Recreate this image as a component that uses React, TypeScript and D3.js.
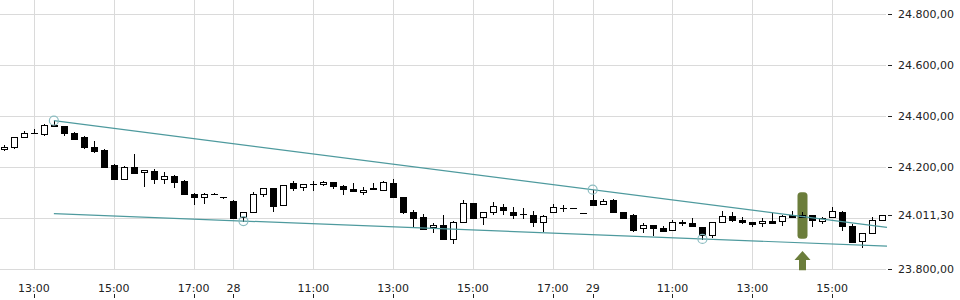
import React, { useEffect } from "react";
import * as d3 from "d3";

// 15-minute candles, index 0 = 12:15 on the 27th
const opens = [24270,24278,24317,24332,24330,24367,24361,24333,24317,24278,24267,24207,24155,24200,24180,24184,24153,24166,24146,24095,24082,24095,24083,24068,24004,24023,24094,24117,24051,24138,24123,24133,24133,24141,24126,24114,24104,24119,24112,24139,24085,24025,24004,23965,23972,23919,23984,24059,24004,24023,24043,24023,24017,24014,23984,24023,24041,24040,24021,24072,24055,24073,24025,24014,23962,23972,23961,23953,23983,23983,23965,23933,23984,24010,23992,23987,23980,23988,23988,24013,24004,24012,23990,24004,24026,23969,23910,23942,23993];
const highs = [24287,24318,24343,24349,24369,24382,24363,24338,24322,24302,24270,24211,24205,24252,24189,24192,24181,24168,24148,24097,24100,24097,24083,24070,24025,24102,24119,24119,24130,24146,24134,24147,24147,24142,24132,24137,24124,24137,24145,24153,24085,24031,24016,23983,24013,23990,24072,24060,24025,24063,24055,24043,24040,24029,24011,24055,24053,24041,24022,24112,24075,24075,24025,24015,23981,23974,23970,23993,23993,24000,23966,23984,24027,24023,24004,23987,24002,24019,24011,24029,24026,24013,24006,24043,24027,23979,23942,24006,24012];
const lows = [24269,24277,24317,24332,24327,24360,24325,24312,24274,24258,24199,24155,24155,24176,24128,24137,24137,24124,24093,24055,24059,24094,24081,24002,23989,24023,24086,24030,24050,24112,24112,24111,24132,24119,24096,24105,24096,24113,24112,24085,24022,23967,23958,23945,23917,23902,23984,24002,23979,24016,24016,24002,24000,23971,23951,24023,24030,24039,24020,24052,24054,24026,23999,23951,23945,23933,23950,23952,23974,23970,23919,23928,23984,23991,23983,23970,23970,23983,23975,24003,24003,23969,23980,24003,23953,23908,23886,23942,23992];
const closes = [24278,24317,24333,24334,24365,24360,24333,24312,24278,24265,24200,24155,24202,24176,24188,24153,24166,24143,24094,24083,24096,24096,24082,24002,24023,24094,24117,24049,24129,24120,24133,24134,24141,24126,24114,24106,24112,24114,24141,24085,24023,24002,23958,23972,23918,23985,24059,24002,24023,24049,24031,24012,24018,23985,24010,24043,24040,24041,24020,24053,24068,24026,24000,23954,23974,23962,23951,23987,23984,23970,23935,23984,24008,23992,23984,23976,23988,23983,24010,24004,24013,23992,24000,24028,23969,23908,23941,23993,24011.3];

// x-axis labels: candle index -> text
const xTickIndex = [3, 11, 19, 23, 31, 39, 47, 55, 59, 67, 75, 83];
const xTickLabels = ["13:00", "15:00", "17:00", "28", "11:00", "13:00", "15:00", "17:00", "29", "11:00", "13:00", "15:00"];

// y-axis
const yGridValues = [24800, 24600, 24400, 24200, 24000, 23800];
const yLabelValues = [24800, 24600, 24400, 24200, 23800];
const lastPrice = 24011.3;

// trendline anchors [index, value]
const upperAnchors = [[5, 24382], [59, 24112]];
const lowerAnchors = [[24, 23989], [70, 23919]];
const lowerStartIndex = 5;
const pivotPoints = [[5, 24382], [24, 23989], [59, 24112], [70, 23919]];

// signal marker
const signalIndex = 80;
const signalRange = [24102, 23920];
const arrowRange = [23872, 23796];

const W = 960;
const H = 300;
const plotRight = 886;

const fmt = (v: number) => {
  const s = v.toFixed(2);
  const [ip, dp] = s.split(".");
  return ip.replace(/\B(?=(\d{3})+(?!\d))/g, ".") + "," + dp;
};

export default function App() {
  useEffect(() => {
    document.body.style.margin = "0";
  }, []);

  const x = d3.scaleLinear().domain([-0.4, 88.5]).range([0, 887]);
  const y = d3.scaleLinear().domain([23800, 24800]).range([269.3, 14]);
  const snap = (v: number) => Math.round(v) + 0.5;

  const lineExt = (a: number[][], i0: number, i1: number) => {
    const [p0, p1] = a;
    const slope = (p1[1] - p0[1]) / (p1[0] - p0[0]);
    const val = (i: number) => p0[1] + (i - p0[0]) * slope;
    return [[x(i0), y(val(i0))], [x(i1), y(val(i1))]];
  };
  const upper = lineExt(upperAnchors, upperAnchors[0][0], 88.5);
  const lower = lineExt(lowerAnchors, lowerStartIndex, 88.5);
  const line = d3.line();

  const teal = "#4e9a9e";
  const olive = "#6b7d3b";
  const font = "DejaVu Sans, sans-serif";

  const sx = Math.round(x(signalIndex)) + 0.5;
  const ay0 = y(arrowRange[0]);
  const ay1 = y(arrowRange[1]);
  const headH = 9;
  const arrowPath = `M${sx - 8},${ay0 + headH} L${sx},${ay0} L${sx + 8},${ay0 + headH} L${sx + 3.5},${ay0 + headH} L${sx + 3.5},${ay1} L${sx - 3.5},${ay1} L${sx - 3.5},${ay0 + headH} Z`;

  return (
    <div style={{ position: "fixed", left: 0, top: 0 }}>
      <svg width={W} height={H} style={{ display: "block", background: "#fff" }}>
        {yGridValues.map((v) => (
          <line key={"g" + v} x1={0} x2={plotRight} y1={snap(y(v))} y2={snap(y(v))} stroke="#dadada" strokeWidth={1} />
        ))}
        {xTickIndex.map((i) => (
          <line key={"v" + i} x1={snap(x(i))} x2={snap(x(i))} y1={0} y2={270} stroke="#dadada" strokeWidth={1} />
        ))}
        {xTickIndex.map((i, k) => (
          <g key={"xt" + i}>
            <line x1={snap(x(i))} x2={snap(x(i))} y1={294} y2={298} stroke="#222" />
            <text x={x(i)} y={292} textAnchor="middle" fontFamily={font} fontSize={11} fill="#222">{xTickLabels[k]}</text>
          </g>
        ))}
        {yLabelValues.concat([lastPrice]).map((v) => (
          <g key={"yt" + v}>
            <line x1={888} x2={892} y1={snap(y(v))} y2={snap(y(v))} stroke="#222" />
            <text x={898} y={y(v)} dy="0.35em" fontFamily={font} fontSize={11} fill="#222">{fmt(v)}</text>
          </g>
        ))}
        <rect x={sx - 5} y={y(signalRange[0])} width={10} height={y(signalRange[1]) - y(signalRange[0])} rx={3.5} fill={olive} />
        <path d={arrowPath} fill={olive} />
        {opens.map((o, i) => {
          const c = closes[i];
          const cx = snap(x(i));
          const up = c >= o;
          const top = snap(y(Math.max(o, c)));
          const bot = snap(y(Math.min(o, c)));
          const h = bot - top;
          return (
            <g key={"c" + i}>
              <line x1={cx} x2={cx} y1={Math.round(y(highs[i]))} y2={Math.round(y(lows[i])) + 1} stroke="#000" strokeWidth={1} />
              {h >= 1 ? (
                <rect x={cx - 3} y={top} width={6} height={h} fill={up ? "#fff" : "#000"} stroke="#000" strokeWidth={1} />
              ) : (
                <line x1={cx - 3.5} x2={cx + 3.5} y1={top} y2={top} stroke="#000" strokeWidth={1} />
              )}
            </g>
          );
        })}
        <path d={line(upper as any) as string} stroke={teal} strokeWidth={1.2} fill="none" />
        <path d={line(lower as any) as string} stroke={teal} strokeWidth={1.2} fill="none" />
        {pivotPoints.map(([i, v]) => (
          <circle key={"p" + i} cx={x(i)} cy={y(v)} r={4.5} fill="none" stroke="#8bbcc0" strokeWidth={1.2} />
        ))}
      </svg>
    </div>
  );
}
